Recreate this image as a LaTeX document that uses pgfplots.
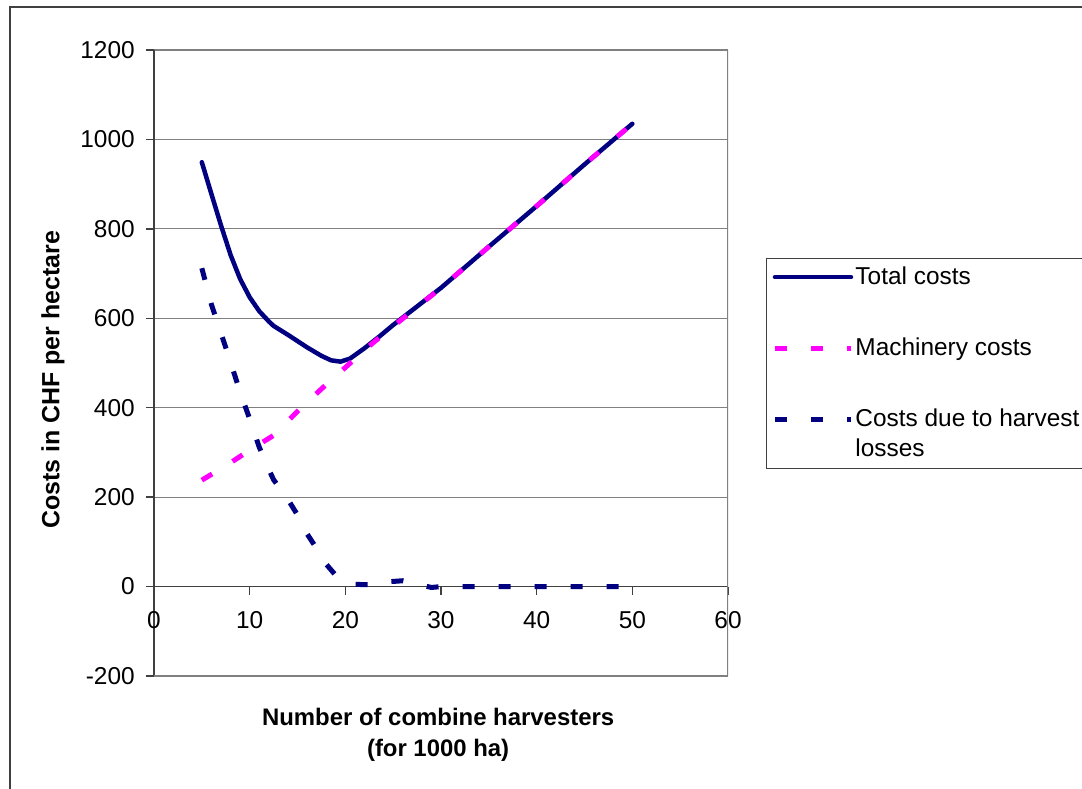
\documentclass[border=0pt]{standalone}
\usepackage{fontspec}
\setmainfont{Liberation Sans}
\usepackage{pgfplots}
\pgfplotsset{compat=1.18}

\definecolor{navy}{RGB}{0,0,128}
\definecolor{mag}{RGB}{255,0,255}
\definecolor{gridgray}{RGB}{128,128,128}
\definecolor{axisdark}{RGB}{64,64,64}

\begin{document}
\fontsize{24.5}{28}\selectfont
\begin{tikzpicture}[x=1bp,y=1bp]
\useasboundingbox (-154,-113) rectangle (928,676);
\draw[line width=2bp, axisdark] (-144,-300) rectangle (1100,669);
\begin{axis}[
    at={(0,0)}, anchor=south west,
    scale only axis, width=574bp, height=626bp,
    xmin=0, xmax=60, ymin=-200, ymax=1200,
    xtick={0,10,...,60}, ytick={-200,0,...,1200},
    axis x line=middle, axis y line=left,
    axis line style={-, axisdark, line width=1.6bp},
    hide obscured x ticks=false, hide obscured y ticks=false,
    tick align=outside, major tick length=8bp,
    tick style={axisdark, line width=1.4bp},
    ymajorgrids, grid style={gridgray, line width=1.2bp},
    /pgf/number format/assume math mode=true,
    /pgf/number format/1000 sep={},
    ticklabel style={font=\fontsize{24.5}{28}\selectfont},
    xticklabel style={yshift=-9bp},
    yticklabel style={xshift=-3bp},
    xlabel={\textbf{Number of combine harvesters}\\\textbf{(for 1000 ha)}},
    xlabel style={align=center, font=\fontsize{24}{31}\selectfont,
        at={(axis description cs:0.495,-0.094)}, anchor=center},
    ylabel={\textbf{Costs in CHF per hectare}},
    ylabel style={font=\fontsize{25}{30}\selectfont,
        at={(axis description cs:-0.176,0.473)}, anchor=center},
    legend style={at={(rel axis cs:1.066,0.668)}, anchor=north west,
        draw=axisdark, line width=1.2bp, inner xsep=6bp, inner ysep=6bp,
        row sep=46bp, font=\fontsize{24.5}{30}\selectfont,
        legend cell align=left,
        nodes={align=left, inner sep=2bp}},
    legend image code/.code={\draw[#1] (0,0) -- (76bp,0);},
]
\draw[gridgray, line width=1.6bp] (rel axis cs:0,0) -- (rel axis cs:1,0) -- (rel axis cs:1,1);

\addplot[navy, line width=4.5bp, line cap=round, line join=round] coordinates {
(5,949) (6,878) (7,808) (8,742) (9,688) (10,647) (11,616) (12,593)
(12.5,583) (14,563) (16,535) (17.5,516) (18.5,506) (19.5,503)
(20.5,510) (22,533) (23.6,560) (25,585) (30,668) (35,760)
(40,851) (45,944) (50,1035)
};
\addlegendentry{Total costs}

\addplot[mag, line width=5bp, dash pattern=on 12bp off 24bp] coordinates {
(5,238) (7.5,270) (10,305) (12.5,338) (15,392) (17.5,442) (20,490)
(22.5,538) (25,582) (30,668) (35,760) (40,851) (45,944) (50,1035)
};
\addlegendentry{Machinery costs}

\addplot[navy, line width=5bp, dash pattern=on 12bp off 24bp,
    legend image post style={yshift=15bp}] coordinates {
(5,712) (6,631) (7,567) (8,502) (9,435) (10,375) (11,312) (12,262)
(12.5,239) (14,195) (15,160) (16,118) (17,85) (18,50) (19,25)
(20,12) (21,5) (22.5,4) (24,10) (26,13) (28,3) (29,-2) (30,0)
(35,0) (40,0) (45,0) (50,0)
};
\addlegendentry{Costs due to harvest\\losses}
\end{axis}
\end{tikzpicture}
\end{document}
